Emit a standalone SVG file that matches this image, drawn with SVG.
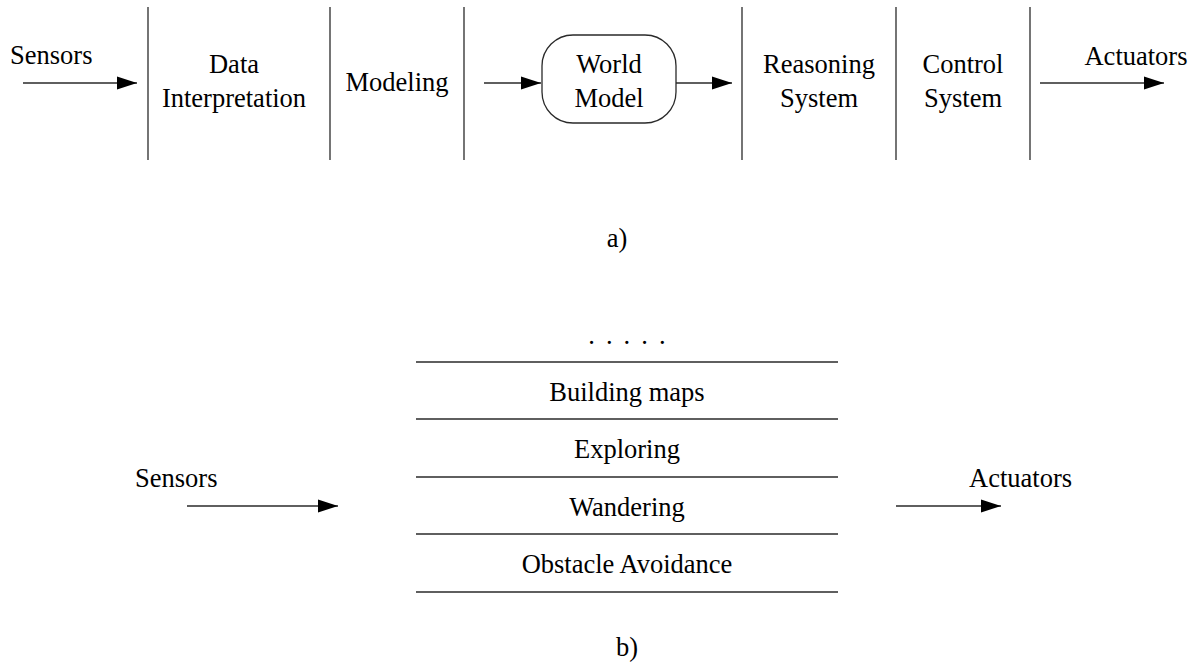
<svg xmlns="http://www.w3.org/2000/svg" width="1194" height="666" viewBox="0 0 1194 666">
  <style>
    text { font-family: "Liberation Serif", "Times New Roman", serif; font-size: 26.5px; fill: #000; }
    .c { text-anchor: middle; }
    .rule { stroke: #2a2a2a; stroke-width: 1.3; fill: none; }
    .flow { stroke: #2a2a2a; stroke-width: 1.3; fill: none; marker-end: url(#head); }
  </style>
  <defs>
    <marker id="head" markerUnits="userSpaceOnUse" markerWidth="21" markerHeight="14" refX="20" refY="7" orient="auto">
      <path d="M0,0.5 L20,7 L0,13.5 z" fill="#000"/>
    </marker>
  </defs>
  <rect width="1194" height="666" fill="#fff"/>

  <!-- a) horizontal decomposition -->
  <g id="stage-dividers">
    <line class="rule" x1="148" y1="7" x2="148" y2="160"/>
    <line class="rule" x1="330" y1="7" x2="330" y2="160"/>
    <line class="rule" x1="464" y1="7" x2="464" y2="160"/>
    <line class="rule" x1="742" y1="7" x2="742" y2="160"/>
    <line class="rule" x1="896" y1="7" x2="896" y2="160"/>
    <line class="rule" x1="1030" y1="7" x2="1030" y2="160"/>
  </g>
  <g id="sensors-a"><text x="10" y="64">Sensors</text></g>
  <g id="data-interpretation">
    <text class="c" x="234" y="73">Data</text>
    <text class="c" x="234" y="107">Interpretation</text>
  </g>
  <g id="modeling"><text class="c" x="397" y="91">Modeling</text></g>
  <g id="world-model">
    <rect x="542" y="35" width="134" height="88" rx="31" ry="31" fill="#fff" stroke="#2a2a2a" stroke-width="1.3"/>
    <text class="c" x="609" y="73">World</text>
    <text class="c" x="609" y="107">Model</text>
  </g>
  <g id="reasoning-system">
    <text class="c" x="819" y="73">Reasoning</text>
    <text class="c" x="819" y="107">System</text>
  </g>
  <g id="control-system">
    <text class="c" x="963" y="73">Control</text>
    <text class="c" x="963" y="107">System</text>
  </g>
  <g id="actuators-a"><text class="c" x="1136" y="65">Actuators</text></g>
  <g id="caption-a"><text class="c" x="617" y="247">a)</text></g>

  <!-- b) vertical layering -->
  <g id="more-layers"><text class="c" x="628" y="343.5" letter-spacing="2.2">. . . . .</text></g>
  <g id="layer-rules">
    <line class="rule" x1="416" y1="362" x2="838" y2="362"/>
    <line class="rule" x1="416" y1="419" x2="838" y2="419"/>
    <line class="rule" x1="416" y1="477" x2="838" y2="477"/>
    <line class="rule" x1="416" y1="534" x2="838" y2="534"/>
    <line class="rule" x1="416" y1="592" x2="838" y2="592"/>
  </g>
  <g id="building-maps"><text class="c" x="627" y="401">Building maps</text></g>
  <g id="exploring"><text class="c" x="627" y="458">Exploring</text></g>
  <g id="wandering"><text class="c" x="627" y="516">Wandering</text></g>
  <g id="obstacle-avoidance"><text class="c" x="627" y="573">Obstacle Avoidance</text></g>
  <g id="sensors-b"><text x="135" y="487">Sensors</text></g>
  <g id="actuators-b"><text x="969" y="487">Actuators</text></g>
  <g id="caption-b"><text class="c" x="627" y="656">b)</text></g>

  <!-- connectors -->
  <g id="connectors">
    <line class="flow" x1="23" y1="83" x2="137" y2="83"/>
    <line class="flow" x1="484" y1="83" x2="541" y2="83"/>
    <line class="flow" x1="676" y1="83" x2="732" y2="83"/>
    <line class="flow" x1="1040" y1="83" x2="1164" y2="83"/>
    <line class="flow" x1="187" y1="506" x2="338" y2="506"/>
    <line class="flow" x1="896" y1="506" x2="1001" y2="506"/>
  </g>
</svg>
